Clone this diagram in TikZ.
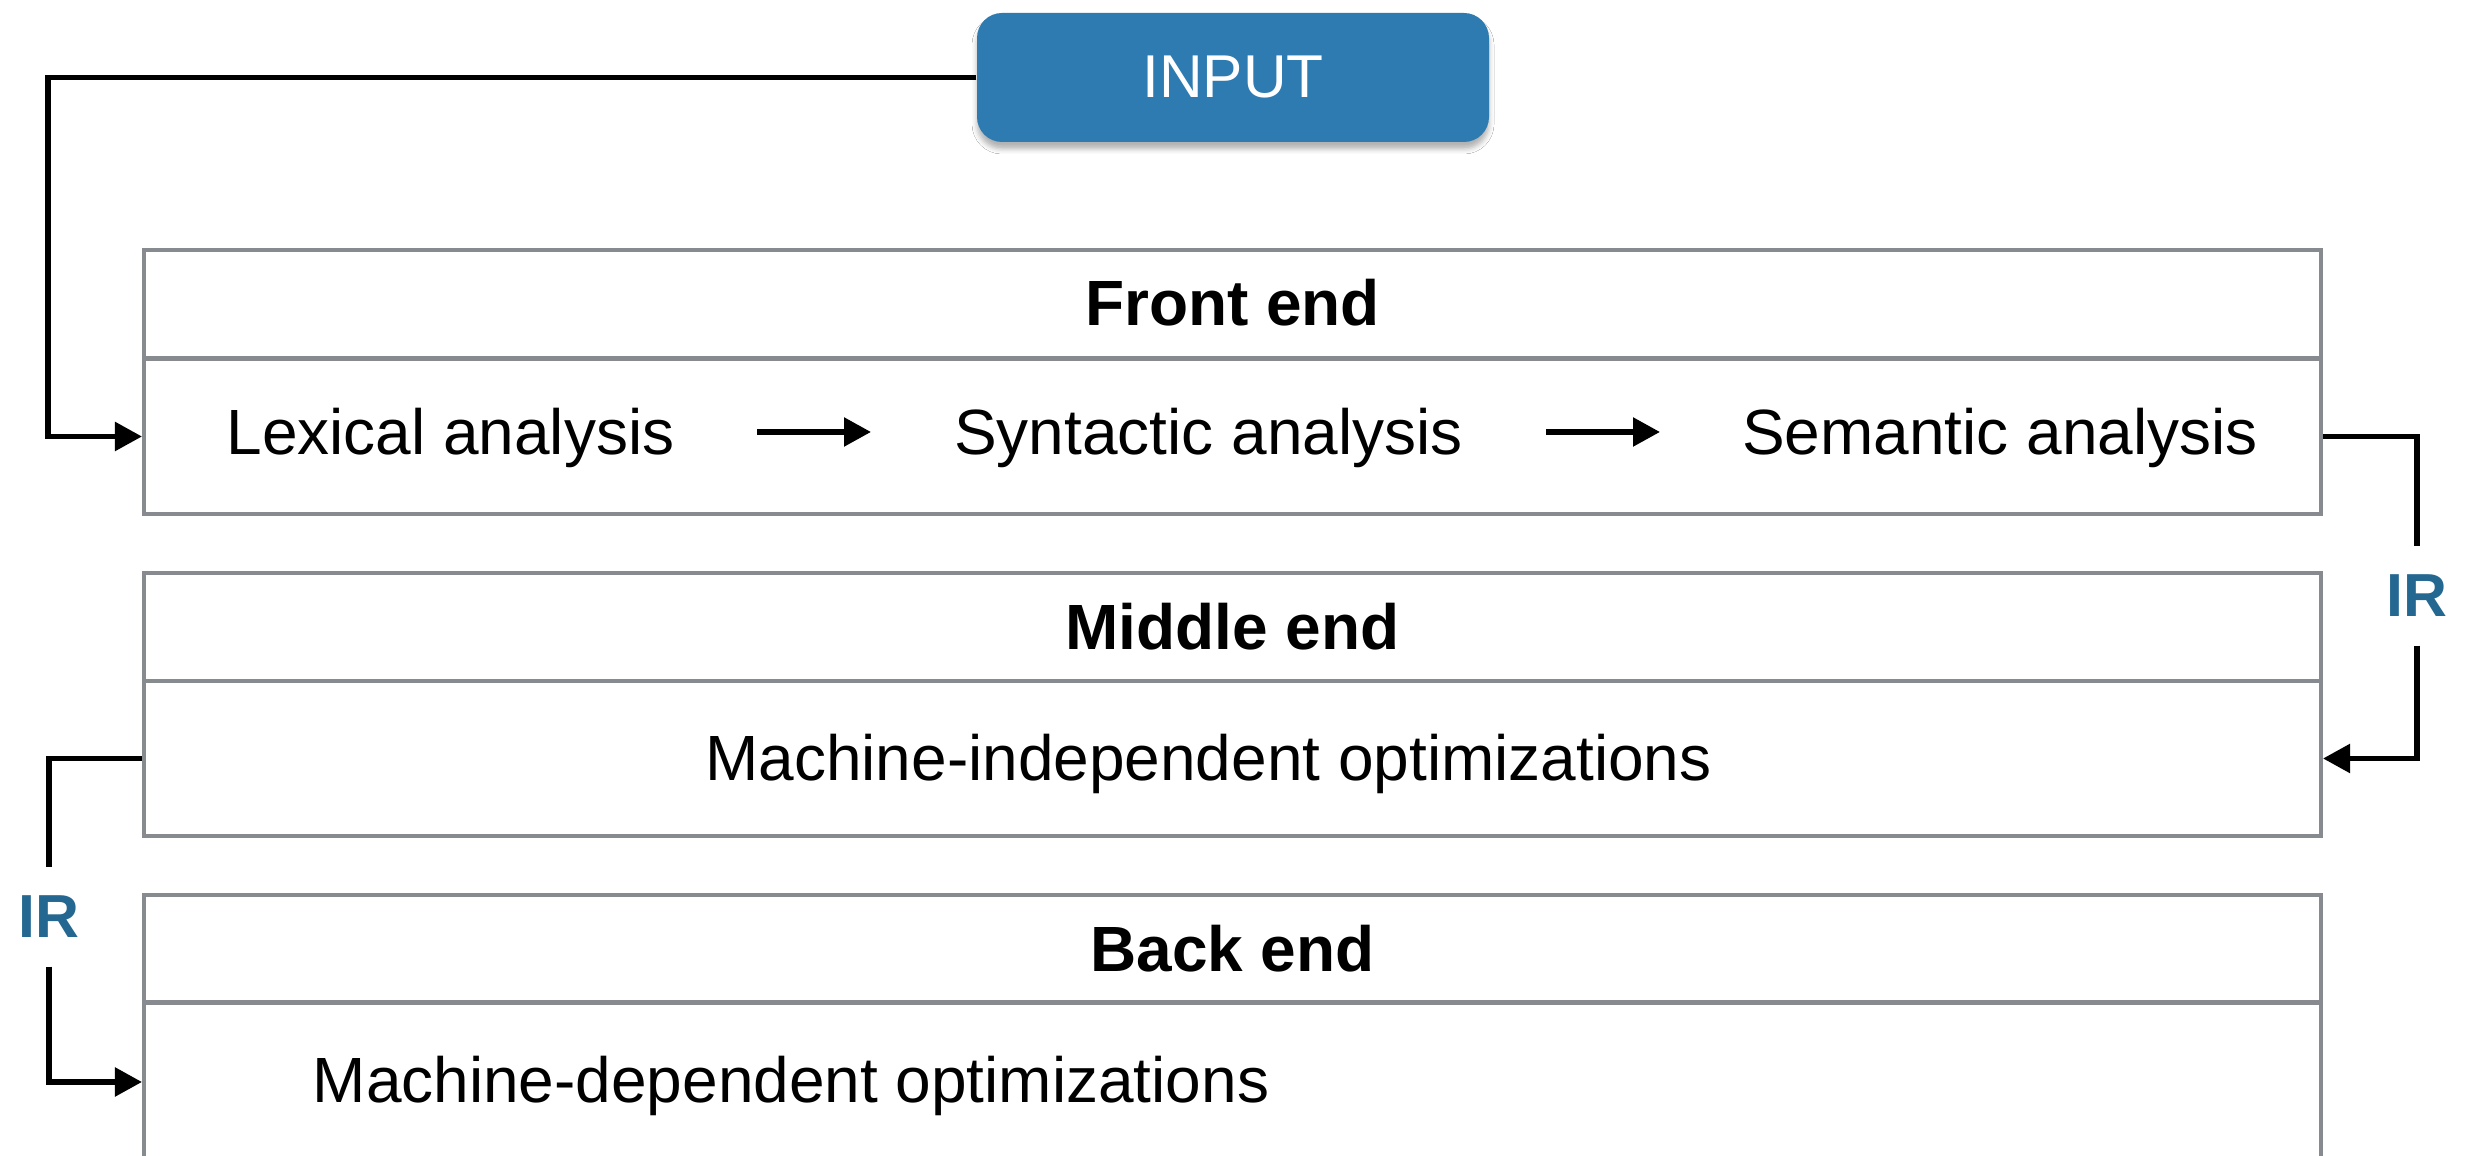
\documentclass[tikz,border=0pt]{standalone}
\usepackage{fontspec}
\setmainfont{Liberation Sans}
\usetikzlibrary{arrows.meta,shadows.blur}

\definecolor{boxgray}{HTML}{878A8E}
\definecolor{inputblue}{HTML}{2D7BB1}
\definecolor{irblue}{HTML}{246891}

\tikzset{
  panel/.style={draw=boxgray, line width=1.14pt, rectangle, minimum width=21.77cm, inner sep=0pt},
  head/.style={panel, minimum height=1.08cm},
  body/.style={panel, minimum height=1.55cm},
  label/.style={inner sep=0pt, anchor=base, font=\fontsize{18.2}{22}\selectfont},
  title/.style={label, font=\fontsize{18.2}{22}\selectfont\bfseries},
  irlabel/.style={inner xsep=0pt, inner ysep=0.28cm, anchor=base,
    text=irblue, font=\fontsize{17.3}{20}\selectfont\bfseries},
  conn/.style={draw=black, line width=1.55pt},
  tip/.style={-{Triangle[length=0.27cm,width=0.28cm]}},
}

\begin{document}
\begin{tikzpicture}
\clip (0,0) rectangle (24.79,-11.56);
\fill[white] (0,0) rectangle (24.79,-11.56);

% input pill
\node[rounded corners=0.25cm, fill=inputblue, minimum width=5.12cm, minimum height=1.29cm,
      text=white, font=\fontsize{17.2}{20}\selectfont,
      blur shadow={shadow xshift=0pt, shadow yshift=-0.07cm, shadow blur radius=0.05cm,
                   shadow blur extra rounding=0.05cm, shadow opacity=30}]
      (input) at (12.33,-0.775) {INPUT};

% front end
\node[head] (fronthead) at (12.325,-3.045) {};
\node[body] (frontbody) at (12.325,-4.365) {};
\node[title] (fronttitle) at (12.325,-3.26) {Front end};
\node[label] (lex) at (4.505,-4.55) {Lexical analysis};
\node[label] (syn) at (12.085,-4.55) {Syntactic analysis};
\node[label] (sem) at (20.0,-4.55) {Semantic analysis};
\coordinate (a1s) at (7.57,-4.32);
\coordinate (a1e) at (8.71,-4.32);
\coordinate (a2s) at (15.46,-4.32);
\coordinate (a2e) at (16.60,-4.32);
\draw[conn,tip] (a1s) -- (a1e);
\draw[conn,tip] (a2s) -- (a2e);

% middle end
\node[head] (midhead) at (12.325,-6.275) {};
\node[body] (midbody) at (12.325,-7.585) {};
\node[title] (midtitle) at (12.325,-6.50) {Middle end};
\node[label] (mio) at (12.085,-7.81) {Machine-independent optimizations};

% back end
\node[head] (backhead) at (12.325,-9.49) {};
\node[body, minimum height=1.6cm] (backbody) at (12.325,-10.82) {};
\node[title] (backtitle) at (12.325,-9.72) {Back end};
\node[label] (mdo) at (7.91,-11.03) {Machine-dependent optimizations};

% IR labels
\node[irlabel] (irR) at (24.17,-6.17) {IR};
\node[irlabel] (irL) at (0.49,-9.38) {IR};

% connectors
\coordinate (lx) at (0.48,-0.76);
\draw[conn,tip] (input.west) -- (input.west -| lx) |- (frontbody.west);
\draw[conn] (frontbody.east) -| (irR.north);
\draw[conn,tip] (irR.south) |- (midbody.east);
\draw[conn] (midbody.west) -| (irL.north);
\draw[conn,tip] (irL.south) |- (backbody.west);
\end{tikzpicture}
\end{document}
